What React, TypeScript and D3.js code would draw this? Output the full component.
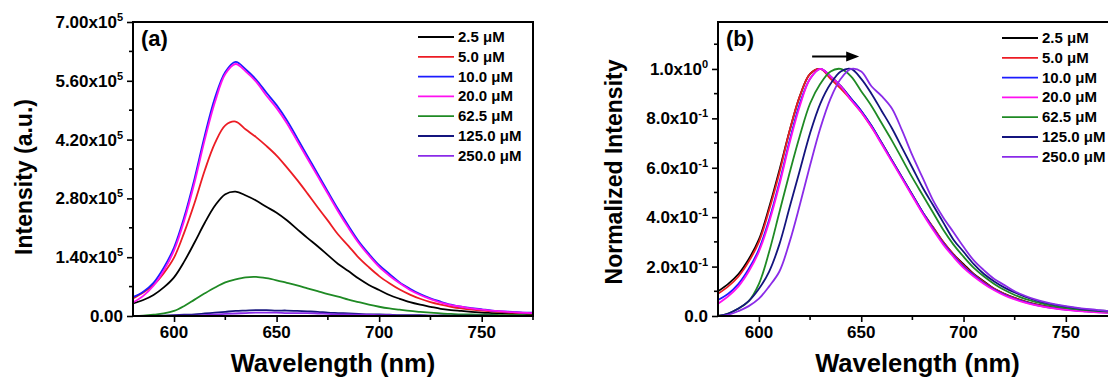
import { useEffect, useRef } from 'react';
import * as d3 from 'd3';

const width = 1108;
const height = 378;
const font = 'Liberation Sans, Arial, Helvetica, sans-serif';

// wavelength grid (nm)
const wavelengths = [
    580, 585, 590, 595, 600, 605, 610, 615, 620, 625, 630, 635, 640, 645, 650, 655, 660, 665, 670, 675,
    680, 685, 690, 695, 700, 705, 710, 715, 720, 725, 730, 735, 740, 745, 750, 755, 760, 765, 770, 775
];

const concentrations = ['2.5 μM', '5.0 μM', '10.0 μM', '20.0 μM', '62.5 μM', '125.0 μM', '250.0 μM'];
const colors = ['#000000', '#ec1c24', '#1c1cff', '#ff10f0', '#1f8a24', '#14147e', '#8a2be8'];

// (a) raw intensity, in units of 1e5
const intensity25 = [0.30, 0.38, 0.50, 0.68, 0.92, 1.30, 1.75, 2.22, 2.63, 2.90, 2.96, 2.87, 2.75, 2.60, 2.46, 2.28, 2.07, 1.86, 1.66, 1.45, 1.24, 1.07, 0.89, 0.74, 0.62, 0.50, 0.41, 0.33, 0.27, 0.22, 0.17, 0.14, 0.12, 0.10, 0.08, 0.07, 0.06, 0.05, 0.05, 0.04];
const intensity50 = [0.42, 0.56, 0.74, 1.02, 1.39, 1.99, 2.69, 3.47, 4.12, 4.54, 4.63, 4.44, 4.26, 4.05, 3.82, 3.54, 3.24, 2.92, 2.59, 2.27, 1.94, 1.67, 1.39, 1.16, 0.95, 0.78, 0.63, 0.51, 0.41, 0.33, 0.27, 0.22, 0.18, 0.15, 0.13, 0.11, 0.09, 0.08, 0.07, 0.06];
const intensity100 = [0.45, 0.58, 0.79, 1.15, 1.63, 2.36, 3.27, 4.30, 5.20, 5.81, 6.05, 5.87, 5.63, 5.32, 5.02, 4.66, 4.24, 3.81, 3.39, 2.96, 2.54, 2.15, 1.78, 1.48, 1.21, 1.00, 0.80, 0.65, 0.52, 0.42, 0.34, 0.27, 0.22, 0.19, 0.16, 0.13, 0.11, 0.10, 0.08, 0.08];
const intensity200 = [0.32, 0.48, 0.72, 1.08, 1.56, 2.28, 3.18, 4.20, 5.10, 5.76, 6.00, 5.82, 5.58, 5.25, 4.95, 4.59, 4.17, 3.75, 3.33, 2.91, 2.49, 2.10, 1.74, 1.44, 1.17, 0.96, 0.78, 0.62, 0.50, 0.40, 0.32, 0.26, 0.22, 0.18, 0.15, 0.13, 0.11, 0.09, 0.08, 0.07];
const intensity625 = [0.00, 0.01, 0.03, 0.06, 0.12, 0.24, 0.39, 0.54, 0.68, 0.80, 0.87, 0.92, 0.93, 0.90, 0.85, 0.79, 0.73, 0.66, 0.59, 0.52, 0.46, 0.39, 0.33, 0.27, 0.22, 0.18, 0.15, 0.12, 0.10, 0.08, 0.06, 0.05, 0.04, 0.04, 0.03, 0.03, 0.02, 0.02, 0.02, 0.01];
const intensity1250 = [0.00, 0.00, 0.00, 0.01, 0.02, 0.03, 0.04, 0.06, 0.08, 0.10, 0.12, 0.13, 0.14, 0.14, 0.13, 0.13, 0.12, 0.11, 0.10, 0.08, 0.07, 0.06, 0.05, 0.04, 0.04, 0.03, 0.02, 0.02, 0.02, 0.01, 0.01, 0.01, 0.01, 0.01, 0.01, 0.01, 0.00, 0.00, 0.00, 0.00];
const intensity2500 = [0.00, 0.00, 0.00, 0.00, 0.01, 0.01, 0.01, 0.02, 0.04, 0.05, 0.06, 0.07, 0.08, 0.08, 0.08, 0.07, 0.07, 0.07, 0.06, 0.05, 0.04, 0.04, 0.03, 0.03, 0.02, 0.02, 0.01, 0.01, 0.01, 0.01, 0.01, 0.00, 0.00, 0.00, 0.00, 0.00, 0.00, 0.00, 0.00, 0.00];

// (b) normalized intensity
const norm25 = [0.10, 0.13, 0.17, 0.23, 0.31, 0.44, 0.59, 0.75, 0.89, 0.98, 1.00, 0.97, 0.93, 0.88, 0.83, 0.77, 0.70, 0.63, 0.56, 0.49, 0.42, 0.36, 0.30, 0.25, 0.21, 0.17, 0.14, 0.11, 0.09, 0.073, 0.059, 0.048, 0.04, 0.033, 0.028, 0.024, 0.021, 0.018, 0.016, 0.015];
const norm50 = [0.09, 0.12, 0.16, 0.22, 0.30, 0.43, 0.58, 0.75, 0.89, 0.98, 1.00, 0.96, 0.92, 0.875, 0.825, 0.765, 0.70, 0.63, 0.56, 0.49, 0.42, 0.36, 0.30, 0.25, 0.205, 0.168, 0.137, 0.11, 0.089, 0.072, 0.058, 0.047, 0.039, 0.032, 0.027, 0.023, 0.02, 0.017, 0.015, 0.014];
const norm100 = [0.065, 0.09, 0.13, 0.19, 0.27, 0.39, 0.54, 0.71, 0.86, 0.96, 1.00, 0.97, 0.93, 0.88, 0.83, 0.77, 0.70, 0.63, 0.56, 0.49, 0.42, 0.355, 0.295, 0.245, 0.20, 0.165, 0.133, 0.107, 0.086, 0.069, 0.056, 0.045, 0.037, 0.031, 0.026, 0.022, 0.019, 0.016, 0.014, 0.013];
const norm200 = [0.05, 0.08, 0.12, 0.18, 0.26, 0.38, 0.53, 0.70, 0.85, 0.96, 1.00, 0.97, 0.93, 0.875, 0.825, 0.765, 0.695, 0.625, 0.555, 0.485, 0.415, 0.35, 0.29, 0.24, 0.195, 0.16, 0.13, 0.104, 0.083, 0.067, 0.054, 0.044, 0.036, 0.03, 0.025, 0.021, 0.018, 0.015, 0.013, 0.012];
const norm625 = [0.00, 0.01, 0.03, 0.06, 0.13, 0.26, 0.42, 0.58, 0.73, 0.86, 0.94, 0.99, 1.00, 0.97, 0.91, 0.85, 0.78, 0.71, 0.635, 0.56, 0.49, 0.42, 0.35, 0.29, 0.24, 0.195, 0.16, 0.13, 0.105, 0.085, 0.069, 0.057, 0.047, 0.039, 0.033, 0.028, 0.024, 0.021, 0.018, 0.016];
const norm1250 = [0.00, 0.01, 0.03, 0.06, 0.11, 0.18, 0.29, 0.44, 0.59, 0.74, 0.86, 0.94, 0.99, 1.00, 0.96, 0.90, 0.83, 0.76, 0.68, 0.60, 0.52, 0.45, 0.38, 0.31, 0.26, 0.21, 0.17, 0.14, 0.115, 0.095, 0.078, 0.064, 0.053, 0.045, 0.038, 0.032, 0.027, 0.023, 0.021, 0.019];
const norm2500 = [0.00, 0.005, 0.02, 0.04, 0.07, 0.12, 0.18, 0.30, 0.45, 0.61, 0.76, 0.88, 0.96, 1.00, 0.99, 0.93, 0.89, 0.84, 0.75, 0.65, 0.56, 0.47, 0.40, 0.34, 0.28, 0.225, 0.185, 0.15, 0.125, 0.10, 0.082, 0.067, 0.056, 0.047, 0.04, 0.034, 0.029, 0.025, 0.021, 0.019];

const intensitySeries = [intensity25, intensity50, intensity100, intensity200, intensity625, intensity1250, intensity2500];
const normSeries = [norm25, norm50, norm100, norm200, norm625, norm1250, norm2500];

// axis ticks
const xMajor = [600, 650, 700, 750];
const xMinor = [625, 675, 725, 775];
const yMajorA = [0, 1.4, 2.8, 4.2, 5.6, 7.0];
const yMinorA = [0.7, 2.1, 3.5, 4.9, 6.3];
const yLabelsA = ['0.00', '1.40x10', '2.80x10', '4.20x10', '5.60x10', '7.00x10'];
const yExpA = ['', '5', '5', '5', '5', '5'];
const yMajorB = [0, 0.2, 0.4, 0.6, 0.8, 1.0];
const yMinorB = [0.1, 0.3, 0.5, 0.7, 0.9, 1.1];
const yLabelsB = ['0.0', '2.0x10', '4.0x10', '6.0x10', '8.0x10', '1.0x10'];
const yExpB = ['', '-1', '-1', '-1', '-1', '0'];

// shift arrow in (b): wavelength from/to, height
const arrowFrom = 626;
const arrowTo = 649;
const arrowLevel = 1.05;

type Panel = {
    id: string;
    left: number;
    right: number;
    top: number;
    bottom: number;
    yMax: number;
    series: number[][];
    yMajor: number[];
    yMinor: number[];
    yLabels: string[];
    yExp: string[];
    yTitle: string;
    yTitleX: number;
    yTitleY: number;
    tag: string;
    legendX: number;
    legendY: number;
};

const panels: Panel[] = [
    {
        id: 'a', left: 133, right: 533, top: 22, bottom: 316, yMax: 7,
        series: intensitySeries, yMajor: yMajorA, yMinor: yMinorA, yLabels: yLabelsA, yExp: yExpA,
        yTitle: 'Intensity (a.u.)', yTitleX: 32, yTitleY: 177, tag: '(a)', legendX: 418, legendY: 37
    },
    {
        id: 'b', left: 718, right: 1117, top: 22, bottom: 316, yMax: 1.19,
        series: normSeries, yMajor: yMajorB, yMinor: yMinorB, yLabels: yLabelsB, yExp: yExpB,
        yTitle: 'Normalized Intensity', yTitleX: 622, yTitleY: 172, tag: '(b)', legendX: 1002, legendY: 38
    }
];

function App() {
    const ref = useRef<SVGSVGElement>(null);

    useEffect(() => {
        const svg = d3.select(ref.current);
        svg.selectAll('*').remove();

        panels.forEach((p) => {
            const x = d3.scaleLinear().domain([580, 775]).range([p.left, p.right]);
            const y = d3.scaleLinear().domain([0, p.yMax]).range([p.bottom, p.top]);
            const g = svg.append('g').attr('font-family', font).attr('font-weight', 'bold');

            g.append('clipPath')
                .attr('id', `clip-${p.id}`)
                .append('rect')
                .attr('x', p.left)
                .attr('y', p.top)
                .attr('width', p.right - p.left)
                .attr('height', p.bottom - p.top);

            // curves
            const line = d3
                .line<number>()
                .x((_, i) => x(wavelengths[i]))
                .y((d) => y(d))
                .curve(d3.curveCatmullRom.alpha(0.5));

            g.append('g')
                .attr('clip-path', `url(#clip-${p.id})`)
                .selectAll('path')
                .data(p.series)
                .enter()
                .append('path')
                .attr('d', (d) => line(d))
                .attr('fill', 'none')
                .attr('stroke', (_, i) => colors[i])
                .attr('stroke-width', 1.8);

            // x axis ticks
            const xAxisG = g.append('g').attr('transform', `translate(0, ${p.bottom})`);
            xAxisG
                .call(d3.axisBottom(x).tickValues(xMajor).tickSize(6).tickFormat(() => ''))
                .call((s) => s.select('.domain').remove())
                .call((s) => s.selectAll('.tick line').attr('stroke-width', 1.6));
            xAxisG
                .selectAll('.minor')
                .data(xMinor)
                .enter()
                .append('line')
                .attr('x1', (d) => x(d))
                .attr('x2', (d) => x(d))
                .attr('y1', 0)
                .attr('y2', 4)
                .attr('stroke', '#000')
                .attr('stroke-width', 1.6);
            g.selectAll('.xlab')
                .data(xMajor)
                .enter()
                .append('text')
                .attr('x', (d) => x(d))
                .attr('y', p.bottom + 22)
                .attr('text-anchor', 'middle')
                .attr('font-size', 17)
                .text((d) => d);

            // y axis ticks
            const yAxisG = g.append('g').attr('transform', `translate(${p.left}, 0)`);
            yAxisG
                .call(d3.axisLeft(y).tickValues(p.yMajor).tickSize(6).tickFormat(() => ''))
                .call((s) => s.select('.domain').remove())
                .call((s) => s.selectAll('.tick line').attr('stroke-width', 1.6));
            yAxisG
                .selectAll('.minor')
                .data(p.yMinor)
                .enter()
                .append('line')
                .attr('x1', 0)
                .attr('x2', -4)
                .attr('y1', (d) => y(d))
                .attr('y2', (d) => y(d))
                .attr('stroke', '#000')
                .attr('stroke-width', 1.6);

            const yText = g
                .selectAll('.ylab')
                .data(p.yMajor)
                .enter()
                .append('text')
                .attr('x', p.left - 10)
                .attr('y', (d) => y(d) + 6)
                .attr('text-anchor', 'end')
                .attr('font-size', 17);
            yText.append('tspan').text((_, i) => p.yLabels[i]);
            yText
                .append('tspan')
                .attr('dy', -7)
                .attr('font-size', 11)
                .text((_, i) => p.yExp[i]);

            // frame
            g.append('rect')
                .attr('x', p.left)
                .attr('y', p.top)
                .attr('width', p.right - p.left)
                .attr('height', p.bottom - p.top)
                .attr('fill', 'none')
                .attr('stroke', '#000')
                .attr('stroke-width', 2);

            // titles
            g.append('text')
                .attr('x', (p.left + p.right) / 2)
                .attr('y', 372)
                .attr('text-anchor', 'middle')
                .attr('font-size', 25.5)
                .text('Wavelength (nm)');
            g.append('text')
                .attr('transform', `translate(${p.yTitleX}, ${p.yTitleY}) rotate(-90)`)
                .attr('text-anchor', 'middle')
                .attr('font-size', 23)
                .text(p.yTitle);
            g.append('text')
                .attr('x', p.left + 8)
                .attr('y', 46)
                .attr('font-size', 22)
                .text(p.tag);

            // legend
            const leg = g
                .selectAll('.leg')
                .data(concentrations)
                .enter()
                .append('g')
                .attr('transform', (_, i) => `translate(${p.legendX}, ${p.legendY + i * 19.8})`);
            leg.append('line')
                .attr('x1', 0)
                .attr('x2', 36)
                .attr('stroke', (_, i) => colors[i])
                .attr('stroke-width', 1.8);
            leg.append('text')
                .attr('x', 40)
                .attr('y', 5)
                .attr('font-size', 15)
                .text((d) => d);

            if (p.id === 'b') {
                const yy = y(arrowLevel);
                g.append('line')
                    .attr('x1', x(arrowFrom))
                    .attr('x2', x(arrowTo) - 10)
                    .attr('y1', yy)
                    .attr('y2', yy)
                    .attr('stroke', '#000')
                    .attr('stroke-width', 2);
                g.append('path')
                    .attr('d', `M${x(arrowTo)},${yy} L${x(arrowTo) - 13},${yy - 5} L${x(arrowTo) - 13},${yy + 5} Z`)
                    .attr('fill', '#000');
            }
        });
    }, []);

    return (
        <svg
            ref={ref}
            width={width}
            height={height}
            style={{ position: 'absolute', left: 0, top: 0, background: '#fff' }}
        />
    );
}

export default App;
